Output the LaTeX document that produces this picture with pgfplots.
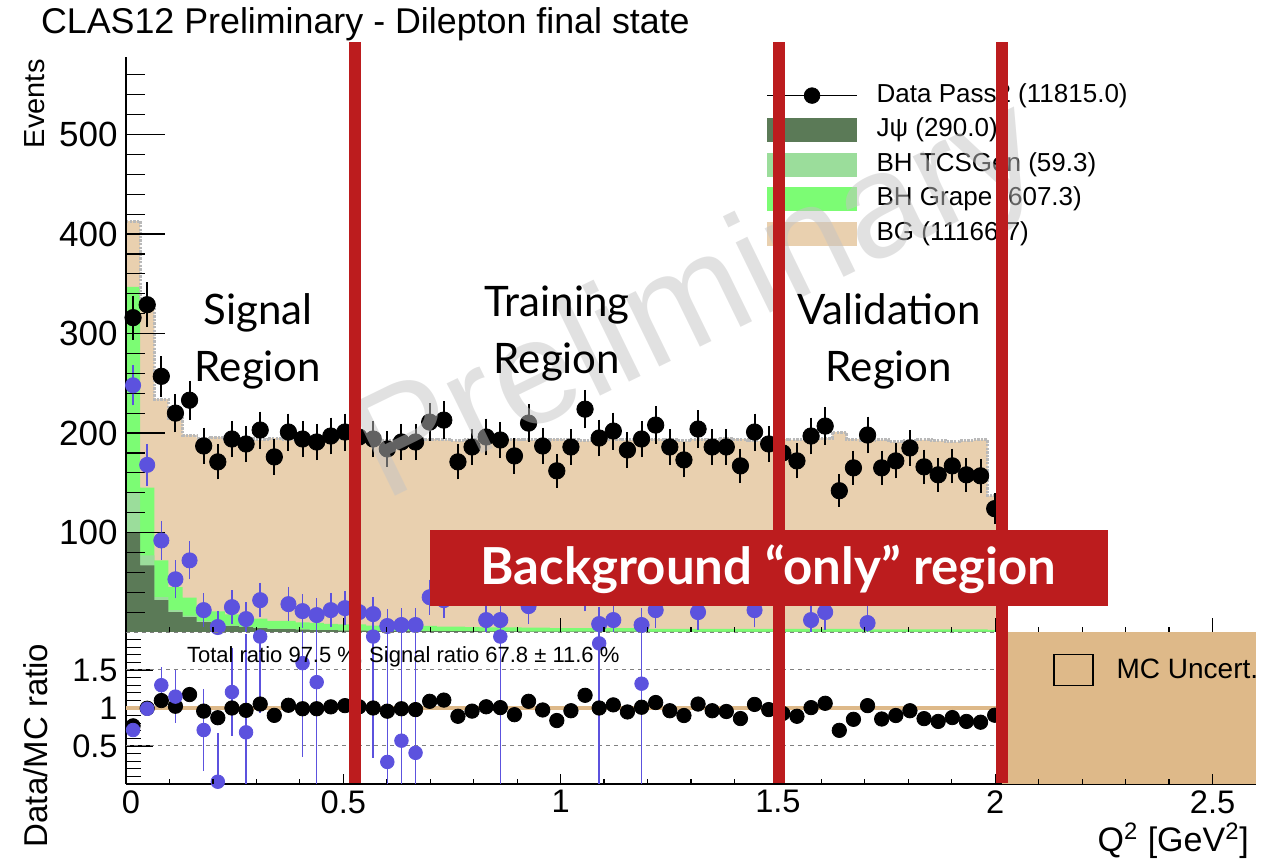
\documentclass[border=0pt]{standalone}
\usepackage{fontspec}
\setmainfont{Liberation Sans}
\newfontfamily\gillfont{Lato}
\usepackage{pgfplots}
\usepackage{pgfplotstable}
\pgfplotsset{compat=1.18}

\definecolor{jpsi}{RGB}{91,122,87}
\definecolor{tcsgen}{RGB}{155,221,155}
\definecolor{grape}{RGB}{124,252,116}
\definecolor{bgtan}{RGB}{233,208,175}
\definecolor{hatchgray}{RGB}{185,185,185}
\definecolor{sigblue}{RGB}{92,82,222}
\definecolor{mcunc}{RGB}{222,185,137}
\definecolor{slidered}{RGB}{188,28,30}
\definecolor{wmgray}{RGB}{196,196,196}

% Q^2 histogram, 0.0325 GeV^2 bins (left edges): data, stat. error, MC total,
% J/psi, BH TCSGen, BH Grape contributions, data/MC ratio
\pgfplotstableread{
x D eD T J S G R
0      316 17.8 413 100 40  207 0.765
0.0325 329 18.1 330 67  10  68  0.997
0.065  257 16.0 234 32  3   37  1.098
0.0975 220 14.8 215 20  2   23  1.023
0.13   233 15.3 198 15  1.5 18  1.177
0.1625 187 13.7 195 10  1   13  0.959
0.195  171 13.1 196 8   0.8 12  0.872
0.2275 194 13.9 194 6   0.6 11  1.000
0.26   189 13.7 195 5   0.5 10  0.969
0.2925 203 14.2 193 4   0.4 9   1.052
0.325  176 13.3 195 3   0.3 8   0.903
0.3575 201 14.2 194 3   0.3 8   1.036
0.39   194 13.9 196 2.5 0.2 7   0.990
0.4225 191 13.8 193 2   0.2 7   0.990
0.455  197 14.0 194 2   0.2 6   1.015
0.4875 201 14.2 195 1.5 0.1 6   1.031
0.52   196 14.0 193 1.5 0.1 6   1.016
0.5525 194 13.9 194 1.2 0.1 5   1.000
0.585  184 13.6 192 1.2 0.1 5   0.958
0.6175 191 13.8 193 1   0.1 5   0.990
0.65   191 13.8 195 1   0.1 5   0.979
0.6825 211 14.5 194 1   0.1 5   1.088
0.715  213 14.6 193 0.8 0   4.5 1.104
0.7475 171 13.1 192 0.8 0   4.5 0.891
0.78   186 13.6 194 0.8 0   4   0.959
0.8125 196 14.0 193 0.7 0   4   1.016
0.845  193 13.9 192 0.6 0   4   1.005
0.8775 177 13.3 194 0.6 0   4   0.912
0.91   210 14.5 193 0.5 0   4   1.088
0.9425 187 13.7 192 0.5 0   4   0.974
0.975  162 12.7 194 0.3 0   3.5 0.835
1.0075 186 13.6 193 0.3 0   3.5 0.964
1.04   224 15.0 192 0.3 0   3.5 1.167
1.0725 195 14.0 195 0.3 0   3.5 1.000
1.105  202 14.2 194 0.3 0   3.5 1.041
1.1375 183 13.5 193 0.3 0   3.5 0.948
1.17   194 13.9 192 0.3 0   3.5 1.010
1.2025 208 14.4 194 0.2 0   3   1.072
1.235  186 13.6 193 0.2 0   3   0.964
1.2675 173 13.2 192 0.2 0   3   0.901
1.3    204 14.3 194 0.2 0   3   1.052
1.3325 186 13.6 193 0.2 0   3   0.964
1.365  186 13.6 195 0.2 0   3   0.954
1.3975 167 12.9 194 0.2 0   3   0.861
1.43   201 14.2 192 0.2 0   3   1.047
1.4625 189 13.7 193 0.2 0   3   0.979
1.495  180 13.4 194 0.2 0   3   0.928
1.5275 172 13.1 193 0.1 0   3   0.891
1.56   197 14.0 196 0.1 0   3   1.005
1.5925 207 14.4 195 0.1 0   3   1.062
1.625  142 11.9 201 0.1 0   3   0.706
1.6575 165 12.8 194 0.1 0   3   0.851
1.69   198 14.1 192 0.1 0   2.5 1.031
1.7225 165 12.8 193 0.1 0   2.5 0.855
1.755  172 13.1 191 0.1 0   2.5 0.901
1.7875 185 13.6 192 0.1 0   2.5 0.964
1.82   166 12.9 193 0.1 0   2.5 0.860
1.8525 158 12.6 192 0.1 0   2.5 0.823
1.885  167 12.9 191 0.1 0   2.5 0.874
1.9175 158 12.6 192 0.1 0   2.5 0.823
1.95   157 12.5 193 0.1 0   2.5 0.813
1.9825 124 11.1 137 0.1 0   2   0.905
2.015  124 11.1 137 0.1 0   2   0.905
}\hist

% background-subtracted signal counts (bin centres)
\pgfplotstableread{
x y e
0.01625 248 17
0.04875 168 18
0.08125 92  16
0.11375 53  16
0.14625 72  16
0.17875 22  13.7
0.21125 5   13.1
0.24375 25  13.9
0.27625 13  13.7
0.30875 32  14.2
0.37375 28  14.2
0.40625 21  13.9
0.43875 17  13.8
0.47125 22  14.0
0.50375 24  14.2
0.53625 20  14.0
0.56875 18  13.9
0.60125 6   13.6
0.63375 7   13.8
0.66625 7   13.8
0.69875 35  14.5
0.73125 32  14.6
0.82875 12  14.0
0.86125 12  13.9
0.92625 26  14.5
1.05625 39  15.0
1.08875 8   14.0
1.12125 12  14.2
1.18625 7   13.9
1.21875 22  14.4
1.31625 20  14.3
1.44625 22  14.2
1.57625 12  14.0
1.60875 20  14.4
1.70625 9   14.1
}\sigpts

% signal data/MC ratio
\pgfplotstableread{
x y e
0.01625 0.71 0.05
0.04875 0.99 0.10
0.08125 1.30 0.24
0.11375 1.15 0.35
0.17875 0.71 0.54
0.21125 0.03 0.64
0.24375 1.21 0.58
0.27625 0.68 1.30
0.30875 1.94 1.00
0.40625 1.59 1.23
0.43875 1.34 1.50
0.56875 1.94 1.60
0.60125 0.29 1.80
0.63375 0.57 1.80
0.66625 0.41 1.80
0.86125 1.94 2.50
1.08875 1.85 2.50
1.18625 1.32 1.70
}\sigratio

\begin{document}
\begin{tikzpicture}
\path[use as bounding box] (0,0) rectangle (638pt,431.5pt);

% ---------------- upper panel: event counts ----------------
\begin{axis}[
  at={(63pt,115.5pt)}, anchor=south west,
  scale only axis, width=565pt, height=287.5pt,
  xmin=0, xmax=2.6, ymin=0, ymax=578,
  axis x line=none, axis y line*=left,
  axis line style={line width=0.6pt, black},
  axis on top,
  ytick={100,200,300,400,500},
  minor ytick={20,40,...,560},
  tick align=inside,
  major tick length=19.5pt, minor tick length=9.5pt,
  ytick style={line width=0.6pt, black},
  yticklabel style={font=\fontsize{17.5}{20}\selectfont, inner xsep=0pt, xshift=-4pt},
  /pgf/number format/assume math mode=true,
  every axis y label/.style={at={(axis description cs:-0.0805,1.008)}, rotate=90, anchor=east, font=\fontsize{14.5}{17}\selectfont},
  ylabel={Events},
  reverse legend,
  legend cell align=left,
  legend style={at={(axis description cs:0.5664,0.9553)}, anchor=north west,
    draw=none, fill=none, inner sep=0pt, font=\fontsize{13}{15}\selectfont,
    row sep=4.75pt, nodes={inner sep=0pt, text height=9.5pt, text depth=3pt},
    /tikz/every odd column/.append style={column sep=9.5pt}},
]
\addplot[const plot mark left, fill=bgtan, draw=none,
  legend image code/.code={\fill[bgtan] (0pt,-6pt) rectangle (45pt,6pt);}]
  table[x=x, y=T] {\hist} \closedcycle;
\addlegendentry{BG (11166.7)}
\addplot[const plot mark left, fill=grape, draw=none,
  legend image code/.code={\fill[grape] (0pt,-6pt) rectangle (45pt,6pt);}]
  table[x=x, y expr=\thisrow{J}+\thisrow{S}+\thisrow{G}] {\hist} \closedcycle;
\addlegendentry{BH Grape (607.3)}
\addplot[const plot mark left, fill=tcsgen, draw=none,
  legend image code/.code={\fill[tcsgen] (0pt,-6pt) rectangle (45pt,6pt);}]
  table[x=x, y expr=\thisrow{J}+\thisrow{S}] {\hist} \closedcycle;
\addlegendentry{BH TCSGen (59.3)}
\addplot[const plot mark left, fill=jpsi, draw=none,
  legend image code/.code={\fill[jpsi] (0pt,-6pt) rectangle (45pt,6pt);}]
  table[x=x, y=J] {\hist} \closedcycle;
\addlegendentry{Jψ (290.0)}
% MC uncertainty on the total
\addplot[forget plot, const plot mark left, hatchgray, line width=1.5pt,
  dash pattern=on 1.2pt off 0.6pt]
  table[x=x, y=T] {\hist};
% background-subtracted signal
\addplot[forget plot, only marks, mark=*, mark size=3.8pt, sigblue,
  error bars/.cd, y dir=both, y explicit,
  error bar style={line width=0.75pt, sigblue},
  error mark options={line width=0.75pt, mark size=1.6pt, sigblue}]
  table[x=x, y=y, y error=e] {\sigpts};
% data
\addplot[only marks, mark=*, mark size=4.1pt, black,
  legend image code/.code={\draw[black, line width=0.6pt] (0pt,0pt) -- (45pt,0pt);
    \fill[black] (22.5pt,0pt) circle (3.9pt);},
  skip coords between index={62}{63},
  error bars/.cd, y dir=both, y explicit,
  error bar style={line width=1pt, black},
  error mark options={line width=1pt, mark size=2.2pt, black}]
  table[x expr=\thisrow{x}+0.01625, y=D, y error=eD] {\hist};
\addlegendentry{Data Pass2 (11815.0)}
\end{axis}

% x ticks of the upper panel
\begin{axis}[
  at={(63pt,115.5pt)}, anchor=south west,
  scale only axis, width=565pt, height=287.5pt,
  xmin=0, xmax=2.6, ymin=0, ymax=578,
  axis y line=none, axis x line*=bottom,
  axis line style={draw=none},
  xtick={0,0.5,...,2.5}, minor x tick num=4, xticklabels={},
  tick align=inside, major tick length=7pt, minor tick length=2.5pt,
  xtick style={line width=0.6pt, black},
]
\end{axis}

% ---------------- lower panel: ratio ----------------
\begin{axis}[
  at={(63pt,39.5pt)}, anchor=south west,
  scale only axis, width=565pt, height=76pt,
  xmin=0, xmax=2.6, ymin=0, ymax=2,
  axis x line*=bottom, axis y line*=left,
  axis line style={line width=0.6pt, black},
  ytick={0.5,1,1.5}, yticklabels={0.5,1,1.5},
  minor ytick={0.1,0.2,...,1.9},
  xtick={0,0.5,1,1.5,2,2.5}, xticklabels={\hspace{5pt}0,0.5,1,1.5,2,2.5},
  xtick style={draw=none},
  ytick style={line width=0.6pt, black},
  tick align=inside,
  major tick length=13.5pt, minor tick length=7.5pt,
  ticklabel style={font=\fontsize{16.3}{19}\selectfont},
  yticklabel style={inner xsep=0pt, xshift=-4pt},
  xticklabel style={inner ysep=0pt, yshift=-3pt},
  /pgf/number format/assume math mode=true,
  every axis y label/.style={at={(axis description cs:-0.0796,0.97)}, rotate=90, anchor=east, font=\fontsize{16.5}{19}\selectfont},
  ylabel={Data/MC ratio},
  every axis x label/.style={at={(axis description cs:1,-0.447)}, anchor=base east, font=\fontsize{17}{20}\selectfont},
  xlabel={Q\textsuperscript{2} [GeV\textsuperscript{2}]},
  legend style={at={(axis description cs:0.8204,0.75)}, anchor=west,
    draw=none, fill=none, inner sep=0pt, font=\fontsize{14}{16}\selectfont,
    nodes={inner sep=0pt},
    /tikz/every odd column/.append style={column sep=11.5pt}},
]
\addplot[forget plot, gray, line width=0.5pt, dash pattern=on 2pt off 2pt] coordinates {(0,0.5) (2.6,0.5)};
\addplot[forget plot, gray, line width=0.5pt, dash pattern=on 2pt off 2pt] coordinates {(0,1.5) (2.6,1.5)};
\addplot[forget plot, gray, line width=0.5pt, dash pattern=on 2pt off 2pt] coordinates {(0,1.995) (2.6,1.995)};
\addplot[forget plot, const plot, mcunc, line width=2pt] coordinates {(0,1) (2.015,1)};
\addplot[fill=mcunc, draw=none,
  legend image code/.code={\path[draw=black, fill=mcunc, line width=0.6pt] (0pt,-7.75pt) rectangle (19.5pt,7.75pt);}]
  coordinates {(2.015,2) (2.6,2)} \closedcycle;
\addlegendentry{MC Uncert.}
\addplot[forget plot, only marks, mark=*, mark size=3.6pt, black,
  skip coords between index={62}{63}]
  table[x expr=\thisrow{x}+0.01625, y=R] {\hist};
\addplot[forget plot, only marks, mark=*, mark size=3.4pt, sigblue,
  error bars/.cd, y dir=both, y explicit, error mark=none,
  error bar style={line width=0.7pt, sigblue}]
  table[x=x, y=y, y error=e] {\sigratio};
\end{axis}

% x ticks of the lower panel
\begin{axis}[
  at={(63pt,39.5pt)}, anchor=south west,
  scale only axis, width=565pt, height=76pt,
  xmin=0, xmax=2.6, ymin=0, ymax=2,
  axis y line=none, axis x line*=bottom,
  axis line style={draw=none},
  xtick={0,0.5,...,2.5}, minor x tick num=4, xticklabels={},
  tick align=inside, major tick length=5pt, minor tick length=2.5pt,
  xtick style={line width=0.6pt, black},
]
\end{axis}

% ---------------- annotations ----------------
\node[anchor=base west, font=\fontsize{17.9}{21}\selectfont] at (17pt,414.5pt)
  {CLAS12 Preliminary - Dilepton final state};
\node[anchor=west, font=\fontsize{11}{13}\selectfont] at (90pt,103pt)
  {Total ratio 97.5 \%, Signal ratio 67.8 ± 11.6 \%};

\node[rotate=26, font=\fontsize{74}{80}\selectfont, text=wmgray, opacity=0.5]
  at (350pt,279pt) {Preliminary};

% region boundaries
\fill[slidered] (174.5pt,40pt) rectangle (180.5pt,410.5pt);
\fill[slidered] (386.25pt,40pt) rectangle (392.25pt,410.5pt);
\fill[slidered] (498pt,40pt) rectangle (504pt,410.5pt);

\fill[slidered] (215pt,128.5pt) rectangle (554pt,166.5pt);
\node[anchor=base, text=white, font=\gillfont\bfseries\fontsize{25.5}{30}\selectfont]
  at (384.25pt,139pt) {Background “only” region};

\begin{scope}[every node/.style={anchor=base, font=\gillfont\fontsize{21}{25}\selectfont}]
\node at (129pt,269pt) {Signal};
\node at (129pt,240.5pt) {Region};
\node at (278.5pt,273pt) {Training};
\node at (278.5pt,244.5pt) {Region};
\node at (444.5pt,269pt) {Validation};
\node at (444.5pt,240.5pt) {Region};
\end{scope}
\end{tikzpicture}
\end{document}
